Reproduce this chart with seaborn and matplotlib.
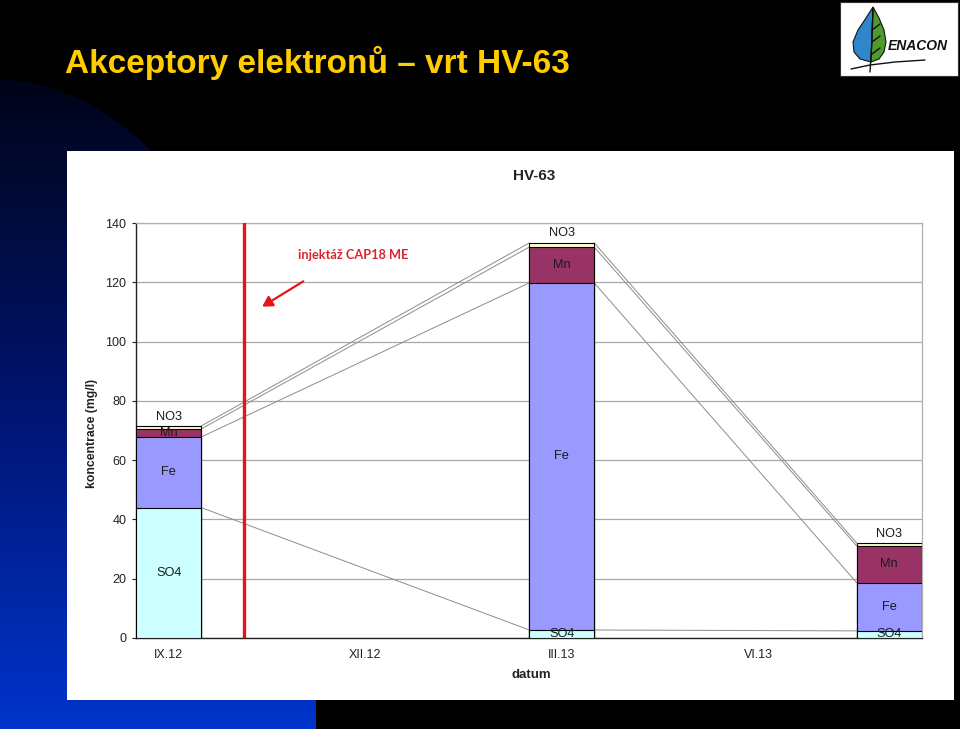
import numpy as np
import pandas as pd
import matplotlib
matplotlib.use("Agg")
import matplotlib.pyplot as plt
from matplotlib.colors import LinearSegmentedColormap
from matplotlib.patches import Rectangle, PathPatch, Polygon, FancyArrowPatch
from matplotlib.path import Path
import seaborn as sns

# ---------------- data ----------------
months = [0, 6, 11]                      # months since IX.2012
so4 = [44.0, 2.7, 2.4]
fe = [23.8, 117.1, 16.2]
mn = [2.7, 12.1, 12.4]
no3 = [1.0, 1.4, 1.0]
species = ["SO4", "Fe", "Mn", "NO3"]
tick_months = [0, 3, 6, 9]
tick_labels = ["IX.12", "XII.12", "III.13", "VI.13"]
injection_month = 1.15
injection_label = "injektáž CAP18 ME"
colors = {"SO4": "#ccffff", "Fe": "#9999ff", "Mn": "#993366", "NO3": "#ffffcc"}

df = pd.DataFrame({"month": months, "SO4": so4, "Fe": fe, "Mn": mn, "NO3": no3})
cum = df[species].cumsum(axis=1)
cum["month"] = df["month"]

sns.set_theme(style="white")
plt.rcParams["font.family"] = ["Liberation Sans", "DejaVu Sans"]

W, H = 960, 729
fig = plt.figure(figsize=(9.6, 7.29), dpi=100)
fig.patch.set_facecolor("black")

# ---------------- slide background ----------------
bg = fig.add_axes([0, 0, 1, 1])
bg.set_xlim(0, W)
bg.set_ylim(H, 0)
bg.axis("off")

cmap = LinearSegmentedColormap.from_list("bl", ["#000418", "#001470", "#0034cc"])
grad = np.linspace(0, 1, 256).reshape(-1, 1)
im = bg.imshow(grad, cmap=cmap, extent=(0, 316, 729, 80), origin="upper",
               aspect="auto", zorder=0)
t = np.linspace(np.pi / 2, 0, 80)
arc = np.column_stack([316 * np.cos(t), 663 - 583 * np.sin(t)])
verts = np.vstack([[0, 729], [0, 80], arc, [316, 729], [0, 729]])
clip = PathPatch(Path(verts), transform=bg.transData, facecolor="none", edgecolor="none")
bg.add_patch(clip)
im.set_clip_path(clip)
bg.set_xlim(0, W)
bg.set_ylim(H, 0)

# white chart panel
bg.add_patch(Rectangle((67, 151), 887, 549, facecolor="white", edgecolor="none", zorder=1))

# logo
bg.add_patch(Rectangle((840, 2), 118, 74, facecolor="white", edgecolor="#333333", lw=0.8, zorder=1))
blue_half = [(873, 7), (866, 18), (858, 30), (853, 42), (854, 52), (860, 59), (871, 62)]
green_half = [(873, 7), (879, 18), (884, 30), (886, 42), (884, 52), (879, 59), (871, 62)]
bg.add_patch(Polygon(blue_half, closed=True, facecolor="#2f86c8", edgecolor="#111111", lw=0.8, zorder=2))
bg.add_patch(Polygon(green_half, closed=True, facecolor="#4f9a2c", edgecolor="#111111", lw=0.8, zorder=2))
bg.plot([873, 872, 870], [9, 40, 72], color="#111111", lw=1.0, zorder=3)
for y0 in (26, 38, 50):
    bg.plot([872, 880], [y0 + 4, y0 - 2], color="#111111", lw=1.0, zorder=3)
bg.plot([851, 870, 895, 925], [69, 65, 62, 60], color="#111111", lw=1.0, zorder=3)
bg.text(918, 46, "ENACON", fontsize=10, fontweight="bold", style="italic",
        ha="center", va="center", color="#111111", zorder=3)

# slide title
fig.text(65 / W, 1 - 63 / H, "Akceptory elektronů – vrt HV-63", fontsize=24,
         fontweight="bold", color="#ffcc00", ha="left", va="center")

# ---------------- chart ----------------
ax = fig.add_axes([136 / W, 1 - 638 / H, (922 - 136) / W, (638 - 223) / H])
ax.set_facecolor("white")
bar_w = 0.99
native_gap = min(np.diff(sorted(months)))
for sp in reversed(species):
    sns.barplot(data=cum, x="month", y=sp, native_scale=True, width=bar_w / native_gap,
                color=colors[sp], saturation=1, edgecolor="black", linewidth=0.8,
                errorbar=None, ax=ax, zorder=3)

# series lines connecting segment tops
hw = bar_w / 2
for sp in species:
    for i in range(len(months) - 1):
        ax.plot([months[i] + hw, months[i + 1] - hw], [cum[sp][i], cum[sp][i + 1]],
                color="#8c8c8c", lw=0.7, zorder=2)

# segment labels
for i, m in enumerate(months):
    base = 0
    for sp, vals in zip(species, [so4, fe, mn, no3]):
        v = vals[i]
        if sp == "NO3":
            y = base + v + 3.2
        else:
            y = base + v / 2
        ax.text(m, y, sp, ha="center", va="center", fontsize=9.2, color="#1a1a1a", zorder=5)
        base += v

# injection marker
ax.axvline(injection_month, color="#e8141c", lw=2.4, zorder=4)
ax.text(1.97, 129.2, injection_label, color="#d9252f", fontsize=9.2, fontweight="bold",
        family=["Lato", "DejaVu Sans"], ha="left", va="center", zorder=5)
ax.add_patch(FancyArrowPatch((2.09, 120.8), (1.39, 111.3), arrowstyle="-|>,head_length=6,head_width=3.5",
                             color="#e8141c", lw=1.6, zorder=5))

ax.set_xlim(-0.5, 11.5)
ax.set_ylim(0, 140)
ax.set_yticks(np.arange(0, 141, 20))
ax.set_xticks(tick_months)
ax.set_xticklabels(tick_labels)
ax.set_xticks([-0.5, 2.5, 5.5, 8.5, 11.5], minor=True)
ax.tick_params(axis="x", which="major", length=0, labelsize=9, pad=8, colors="#222222")
ax.tick_params(axis="x", which="minor", length=3, width=0.8, color="#333333", direction="out")
ax.tick_params(axis="y", length=3, width=0.8, direction="out", labelsize=9, pad=4,
               colors="#222222", left=True)
ax.yaxis.grid(True, color="#a8a8a8", lw=0.9, zorder=0)
ax.set_axisbelow(True)
for s in ("left", "bottom"):
    ax.spines[s].set_color("#222222")
    ax.spines[s].set_linewidth(1.0)
for s in ("top", "right"):
    ax.spines[s].set_color("#b0b0b0")
    ax.spines[s].set_linewidth(0.9)
ax.set_xlabel("")
ax.set_ylabel("")

fig.text(92 / W, 1 - 433 / H, "koncentrace (mg/l)", rotation=90, fontsize=8.8,
         fontweight="bold", ha="center", va="center", color="#222222")
fig.text(531 / W, 1 - 675 / H, "datum", fontsize=9.5, fontweight="bold",
         ha="center", va="center", color="#222222")
fig.text(534 / W, 1 - 176 / H, "HV-63", fontsize=11, fontweight="bold",
         ha="center", va="center", color="#222222")

fig.savefig("out.png", dpi=100, facecolor="black")
